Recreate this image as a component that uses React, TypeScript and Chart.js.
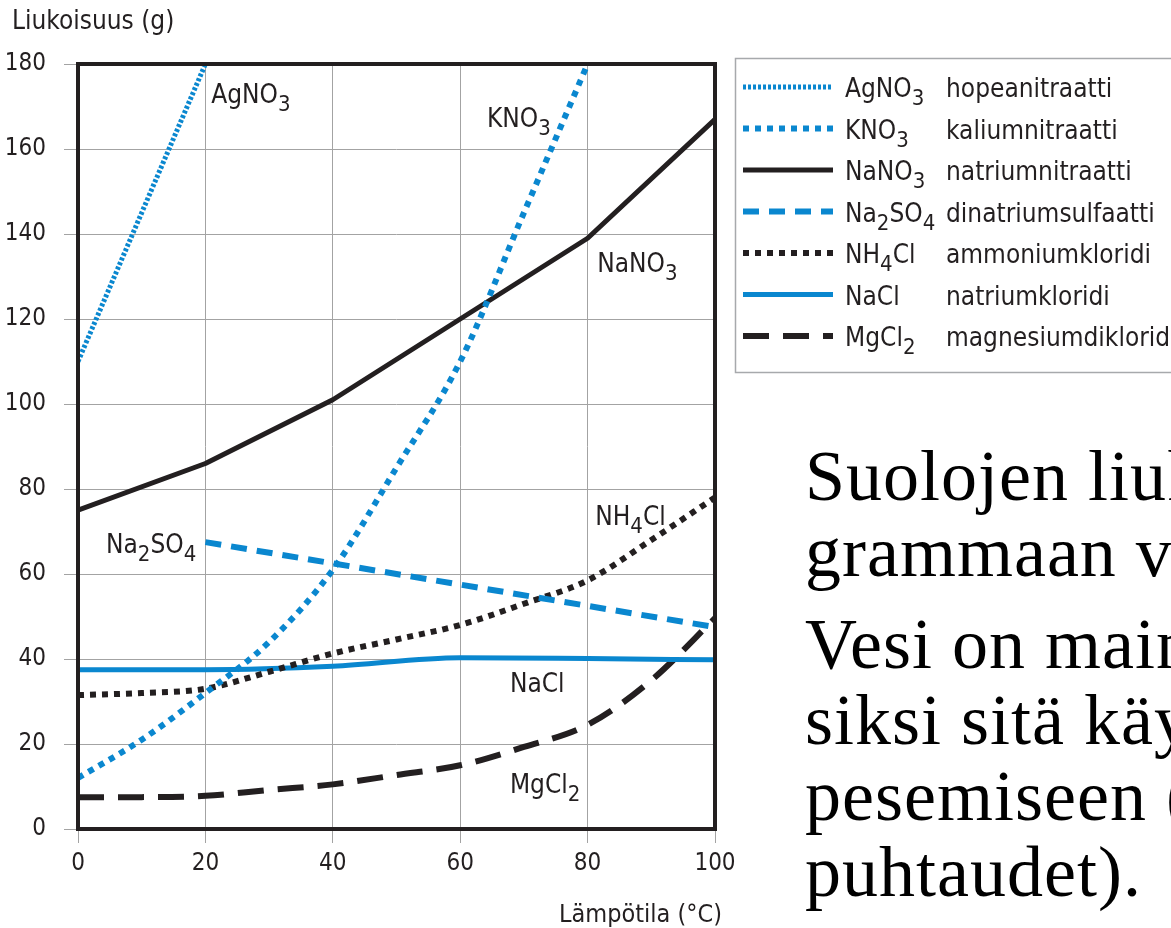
import React, { useEffect, useRef } from "react";
import { Chart, registerables } from "chart.js";
Chart.register(...registerables);

// ---- data ----
const formulas = ["AgNO_3", "KNO_3", "NaNO_3", "Na_2SO_4", "NH_4Cl", "NaCl", "MgCl_2"];
const names = [
  "hopeanitraatti",
  "kaliumnitraatti",
  "natriumnitraatti",
  "dinatriumsulfaatti",
  "ammoniumkloridi",
  "natriumkloridi",
  "magnesiumdikloridi",
];

const agno3T = [0, 20];
const agno3V = [110, 180];
const kno3T = [0, 10, 20, 30, 40, 50, 60, 70, 80];
const kno3V = [12, 21, 32, 44, 61, 85, 110, 145, 180];
const nano3T = [0, 20, 40, 60, 80, 100];
const nano3V = [75, 86, 101, 120, 139, 167];
const na2so4T = [20, 40, 60, 80, 100];
const na2so4V = [67.5, 62.5, 57.5, 52.5, 47.5];
const nh4clT = [0, 10, 20, 30, 40, 50, 60, 70, 80, 90, 100];
const nh4clV = [31.5, 32, 33, 37, 41.3, 44.6, 48, 53, 58.5, 68, 78];
const naclT = [0, 20, 40, 60, 80, 100];
const naclV = [37.5, 37.5, 38.3, 40.3, 40.1, 39.8];
const mgcl2T = [0, 10, 20, 30, 40, 50, 60, 70, 80, 90, 100];
const mgcl2V = [7.5, 7.5, 7.8, 9.2, 10.5, 12.7, 15, 19.3, 24.5, 35, 49.6];

const xTicks = [0, 20, 40, 60, 80, 100];
const yTicks = [0, 20, 40, 60, 80, 100, 120, 140, 160, 180];

const yTitle = "Liukoisuus (g)";
const xTitle = "Lämpötila (°C)";
const paragraph1 = ["Suolojen liuk", "grammaan v"];
const paragraph2 = ["Vesi on main", "siksi sitä käy", "pesemiseen (", "puhtaudet)."];

// ---- styles ----
const BLUE = "#0a87cf";
const INK = "#231f20";
const GRID = "#a3a3a3";
const FONT = "'DejaVu Sans Condensed','Liberation Sans Narrow','Arial Narrow',sans-serif";

const seriesT = [agno3T, kno3T, nano3T, na2so4T, nh4clT, naclT, mgcl2T];
const seriesV = [agno3V, kno3V, nano3V, na2so4V, nh4clV, naclV, mgcl2V];
const seriesColor = [BLUE, BLUE, INK, BLUE, INK, BLUE, INK];
const seriesWidth = [5, 6, 5, 6, 6, 5, 6];
const seriesDash = [[3, 2], [6, 6], [], [16, 10], [6, 6], [], [26, 14]];
const seriesSmooth = [false, true, false, false, true, true, true];

// in-plot label anchors (data coordinates of left/baseline)
const labelAnchors = [
  { i: 0, x: 20.9, y: 170.8 },
  { i: 1, x: 64.2, y: 165.2 },
  { i: 2, x: 81.5, y: 131.1 },
  { i: 3, x: 4.4, y: 64.9 },
  { i: 4, x: 81.2, y: 71.5 },
  { i: 5, x: 67.8, y: 32.2 },
  { i: 6, x: 67.8, y: 8.5 },
];

function drawRich(ctx: CanvasRenderingContext2D, text: string, x: number, y: number, size: number) {
  let cx = x;
  const parts = text.split(/(_\d)/);
  for (const p of parts) {
    if (!p) continue;
    if (p.startsWith("_")) {
      const s = p.slice(1);
      ctx.font = `${Math.round(size * 0.85)}px ${FONT}`;
      ctx.fillText(s, cx, y + size * 0.32);
      cx += ctx.measureText(s).width;
    } else {
      ctx.font = `${size}px ${FONT}`;
      ctx.fillText(p, cx, y);
      cx += ctx.measureText(p).width;
    }
  }
}

const decorPlugin = {
  id: "decor",
  afterDatasetsDraw(chart: any) {
    const { ctx, chartArea, scales } = chart;
    const { left, top, right, bottom } = chartArea;
    ctx.save();
    ctx.setLineDash([]);
    ctx.strokeStyle = INK;
    ctx.lineWidth = 4;
    ctx.strokeRect(left, top, right - left, bottom - top);

    ctx.fillStyle = INK;
    ctx.textBaseline = "alphabetic";
    ctx.textAlign = "left";
    for (const a of labelAnchors) {
      drawRich(ctx, formulas[a.i], scales.x.getPixelForValue(a.x), scales.y.getPixelForValue(a.y), 26);
    }

    // axis titles
    ctx.font = `26px ${FONT}`;
    ctx.textAlign = "left";
    ctx.fillText(yTitle, 12, 29);
    ctx.font = `25px ${FONT}`;
    ctx.textAlign = "right";
    ctx.fillText(xTitle, 722, 922);

    // legend
    ctx.textAlign = "left";
    ctx.strokeStyle = "#a7a9ac";
    ctx.lineWidth = 1.5;
    ctx.strokeRect(735.5, 58.5, 600, 314);
    chart.data.datasets.forEach((ds: any, i: number) => {
      const yy = 87 + i * 41.5;
      ctx.save();
      ctx.strokeStyle = ds.borderColor;
      ctx.lineWidth = ds.borderWidth;
      ctx.setLineDash(ds.borderDash || []);
      ctx.lineCap = "butt";
      ctx.beginPath();
      ctx.moveTo(743, yy);
      ctx.lineTo(833, yy);
      ctx.stroke();
      ctx.restore();
      ctx.fillStyle = INK;
      drawRich(ctx, formulas[i], 845, yy + 10, 26);
      ctx.font = `26px ${FONT}`;
      ctx.fillText(names[i], 946, yy + 10);
    });
    ctx.restore();
  },
};

export default function App() {
  const ref = useRef<HTMLCanvasElement>(null);
  useEffect(() => {
    const canvas = ref.current!;
    const datasets = formulas.map((f, i) => ({
      label: f,
      data: seriesT[i].map((t, k) => ({ x: t, y: seriesV[i][k] })),
      borderColor: seriesColor[i],
      borderWidth: seriesWidth[i],
      borderDash: seriesDash[i],
      borderCapStyle: "butt",
      borderJoinStyle: "round",
      pointRadius: 0,
      fill: false,
      tension: 0,
      cubicInterpolationMode: seriesSmooth[i] ? "monotone" : "default",
    }));
    const chart = new Chart(canvas, {
      type: "line",
      data: { datasets } as any,
      plugins: [decorPlugin],
      options: {
        responsive: false,
        animation: false,
        layout: { padding: { left: 0, top: 64, right: 456, bottom: 0 } },
        plugins: { legend: { display: false }, tooltip: { enabled: false } },
        scales: {
          x: {
            type: "linear",
            min: 0,
            max: 100,
            afterBuildTicks: (s: any) => {
              s.ticks = xTicks.map((v) => ({ value: v }));
            },
            ticks: { color: INK, font: { family: FONT, size: 24 }, padding: 6, maxRotation: 0 },
            grid: { color: GRID, lineWidth: 1, tickLength: 14, drawTicks: true },
            border: { display: false },
            afterFit: (s: any) => {
              s.height = 99;
            },
          },
          y: {
            type: "linear",
            min: 0,
            max: 180,
            afterBuildTicks: (s: any) => {
              s.ticks = yTicks.map((v) => ({ value: v }));
            },
            ticks: { color: INK, font: { family: FONT, size: 24 }, padding: 18 },
            grid: { color: GRID, lineWidth: 1, tickLength: 14, drawTicks: true },
            border: { display: false },
            afterFit: (s: any) => {
              s.width = 78;
            },
          },
        },
      } as any,
    });
    return () => chart.destroy();
  }, []);

  const textStyle: React.CSSProperties = {
    fontFamily: "'Liberation Serif', serif",
    fontSize: 72,
    lineHeight: "76px",
    whiteSpace: "nowrap",
    color: "#000",
    letterSpacing: 1,
  };

  return (
    <div style={{ position: "absolute", left: 0, top: 0, width: 1171, height: 928, overflow: "hidden", background: "#fff" }}>
      <canvas ref={ref} width={1171} height={928} style={{ position: "absolute", left: 0, top: 0, width: 1171, height: 928 }} />
      <div style={{ position: "absolute", left: 805, top: 438, ...textStyle }}>
        {paragraph1.map((l) => (
          <div key={l}>{l}</div>
        ))}
        <div style={{ height: 16 }} />
        {paragraph2.map((l) => (
          <div key={l}>{l}</div>
        ))}
      </div>
    </div>
  );
}
